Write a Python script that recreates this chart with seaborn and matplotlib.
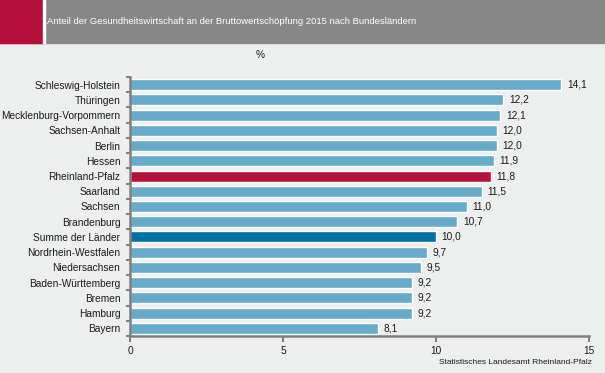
import matplotlib
matplotlib.use("Agg")
import matplotlib.pyplot as plt
import matplotlib.patches as mpatches
import seaborn as sns
import pandas as pd

# Daten
laender = ["Schleswig-Holstein", "Thüringen", "Mecklenburg-Vorpommern", "Sachsen-Anhalt",
           "Berlin", "Hessen", "Rheinland-Pfalz", "Saarland", "Sachsen", "Brandenburg",
           "Summe der Länder", "Nordrhein-Westfalen", "Niedersachsen", "Baden-Württemberg",
           "Bremen", "Hamburg", "Bayern"]
anteil = [14.1, 12.2, 12.1, 12.0, 12.0, 11.9, 11.8, 11.5, 11.0, 10.7,
          10.0, 9.7, 9.5, 9.2, 9.2, 9.2, 8.1]

hell = "#66abc9"
farben = {l: hell for l in laender}
farben["Rheinland-Pfalz"] = "#b5103c"
farben["Summe der Länder"] = "#0071a3"

bg = "#edeeee"
grau = "#808080"

sns.set_theme(style="white")
plt.rcParams["font.family"] = ["Liberation Sans", "DejaVu Sans"]

df = pd.DataFrame({"Land": laender, "Anteil": anteil})

fig = plt.figure(figsize=(6.05, 3.73), dpi=100, facecolor=bg)
ax = fig.add_axes([130 / 605, 37 / 373, 459 / 605, 259 / 373])
ax.set_facecolor(bg)

sns.barplot(data=df, x="Anteil", y="Land", hue="Land", palette=farben,
            legend=False, width=0.72, saturation=1, ax=ax)

# Werte an die Balken
for cont, v in zip(ax.containers, anteil):
    ax.bar_label(cont, labels=[f"{v:.1f}".replace(".", ",")], padding=4,
                 fontsize=7.3, color="#1a1a1a")

ax.set_xlim(0, 15)
ax.set_ylim(16.5, -0.5)
ax.set_xticks([0, 5, 10, 15])
ax.set_xlabel("")
ax.set_ylabel("")

for s in ["top", "right"]:
    ax.spines[s].set_visible(False)
for s in ["left", "bottom"]:
    ax.spines[s].set_color(grau)
    ax.spines[s].set_linewidth(1.8)

ax.tick_params(axis="x", which="major", length=4, width=1.5, color=grau,
               labelsize=7.3, labelcolor="#1a1a1a", pad=3, bottom=True)
ax.tick_params(axis="y", which="major", length=0, labelsize=7.3,
               labelcolor="#1a1a1a", pad=7)
ax.set_yticks([i - 0.5 for i in range(len(laender) + 1)], minor=True)
ax.tick_params(axis="y", which="minor", length=3, width=1.5, color=grau, left=True)

# Kopfzeile
fig.patches.append(mpatches.Rectangle((0, 1 - 43 / 373), 1, 43 / 373,
                                      transform=fig.transFigure, color="#878787", zorder=0))
fig.patches.append(mpatches.Rectangle((0, 1 - 43 / 373), 43 / 605, 43 / 373,
                                      transform=fig.transFigure, color="#b5103c", zorder=1))
fig.patches.append(mpatches.Rectangle((43 / 605, 1 - 43 / 373), 2 / 605, 43 / 373,
                                      transform=fig.transFigure, color="white", zorder=1))
fig.text(47 / 605, 1 - 21 / 373, "Anteil der Gesundheitswirtschaft an der Bruttowertschöpfung 2015 nach Bundesländern",
         color="white", fontsize=6.8, va="center", ha="left")

fig.text(260 / 605, 1 - 55 / 373, "%", fontsize=7.3, ha="center", va="center", color="#1a1a1a")
fig.text(592 / 605, 1 - 363 / 373, "Statistisches Landesamt Rheinland-Pfalz",
         fontsize=6, ha="right", va="center", color="#1a1a1a")

fig.savefig("out.png", dpi=100, facecolor=bg)
